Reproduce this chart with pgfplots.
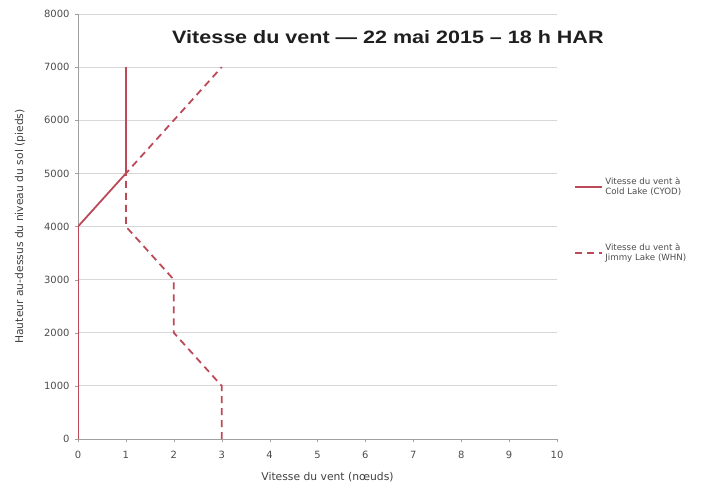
\documentclass[border=0pt]{standalone}
\usepackage{pgfplots}
\pgfplotsset{compat=1.18}
\usepackage{fontspec}
\setmainfont{DejaVu Sans}
\newfontfamily\titlefont[FakeStretch=1.2]{Liberation Sans}
\definecolor{wind}{RGB}{188,72,88}
\definecolor{gridc}{RGB}{215,215,215}
\definecolor{axc}{RGB}{160,160,160}
\begin{document}
\begin{tikzpicture}
\begin{axis}[
  scale only axis,
  width=479bp, height=425bp,
  xmin=0, xmax=10, ymin=0, ymax=8000,
  xtick={0,1,...,10},
  ytick={0,1000,...,8000},
  clip mode=individual,
  axis lines*=left,
  axis line style={axc, line width=0.6pt},
  ymajorgrids,
  major grid style={gridc, line width=0.8pt},
  tick style={axc},
  major tick length=3bp,
  tick align=outside,
  xtick pos=bottom, ytick pos=left,
  ticklabel style={font=\fontsize{10}{12}\selectfont, text=black!70},
  yticklabel style={xshift=-2bp},
  xticklabel style={yshift=-6bp},
  /pgf/number format/assume math mode=true,
  /pgf/number format/1000 sep={},
  scaled y ticks=false,
  xlabel={Vitesse du vent (nœuds)},
  ylabel={Hauteur au-dessus du niveau du sol (pieds)},
  label style={font=\fontsize{10.8}{12}\selectfont, text=black!75},
  xlabel style={yshift=-6bp, xshift=10bp},
  ylabel style={yshift=12bp},
  legend style={at={(1.03,0.625)}, anchor=north west, draw=none, fill=none,
    font=\fontsize{8.7}{10.5}\selectfont, text=black!70,
    cells={align=left}, row sep=43bp},
  legend cell align=left,
  legend image code/.code={\draw[#1, line width=1.8pt] (0bp,0bp) -- (27bp,0bp);},
]
\addplot[wind, line width=1.8pt] coordinates {(0,0) (0,4000) (1,5000) (1,7000)};
\addlegendentry{Vitesse du vent à\\Cold Lake (CYOD)}
\addplot[wind, line width=1.8pt, dash pattern=on 7bp off 5bp] coordinates {(3,0) (3,1000) (2,2000) (2,3000) (1,4000) (1,5000) (3,7000)};
\addlegendentry{Vitesse du vent à\\Jimmy Lake (WHN)}
\node[font=\titlefont\fontsize{18}{20}\bfseries, text=black!88] at (axis cs:6.47,7570) {Vitesse du vent — 22 mai 2015 – 18 h HAR};
\end{axis}
\path (current axis.south west) ++(-78bp,-45bp) coordinate (bl);
\path (current axis.south west) ++(626bp,439bp) coordinate (tr);
\path (bl) rectangle (tr);
\end{tikzpicture}
\end{document}
